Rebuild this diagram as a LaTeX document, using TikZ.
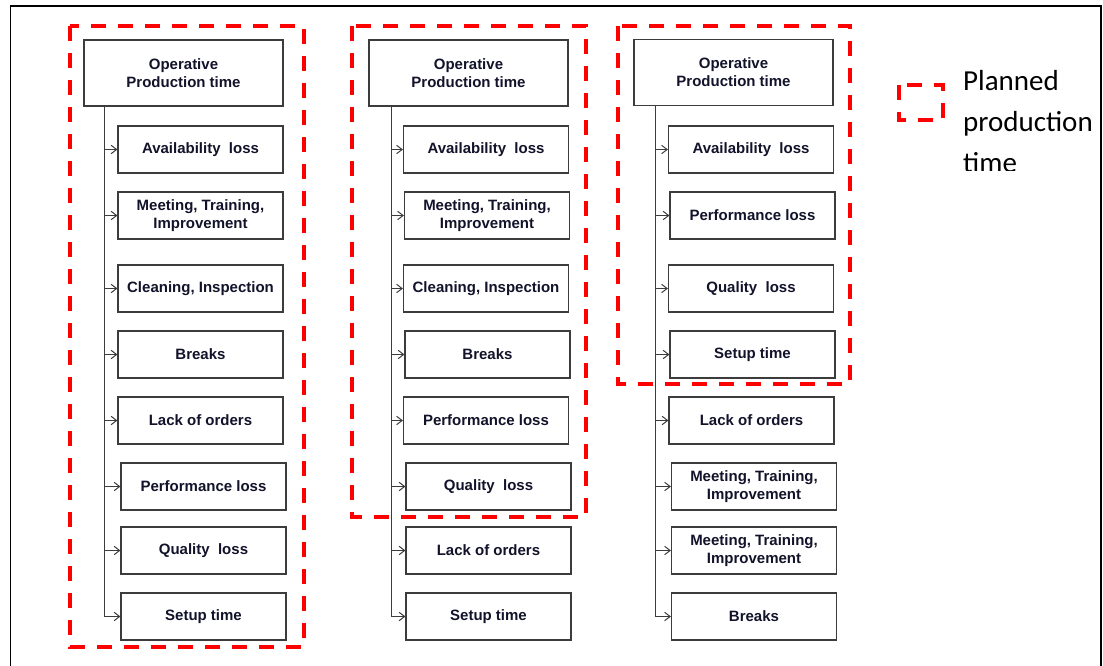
\documentclass[tikz,border=0pt]{standalone}
\usepackage{fontspec}
\setmainfont{Liberation Sans}
\newfontfamily\legendfont{Carlito}
\usetikzlibrary{arrows.meta}
\definecolor{boxtext}{RGB}{18,18,42}
\definecolor{boxline}{RGB}{60,60,60}
\definecolor{planred}{RGB}{255,0,0}
\tikzset{
  box/.style={draw=boxline, line width=1.2pt, minimum width=165pt, minimum height=47pt,
    inner sep=0pt, align=center, text=boxtext,
    font=\fontsize{15}{18}\selectfont\bfseries},
  headbox/.style={box, minimum width=199pt, minimum height=66pt},
  feed/.style={draw=boxline, line width=1pt},
  arr/.style={feed, -{Straight Barb[length=5.5pt,width=8.5pt,line width=1pt]}},
  plan/.style={draw=planred, line width=4pt, dash pattern=on 15pt off 12pt},
}
\begin{document}
\begin{tikzpicture}[x=1pt,y=-1pt]
\useasboundingbox (0,0) rectangle (1103,666);
% outer frame (open at the bottom)
\draw[line width=1.5pt] (10.5,666) -- (10.5,6) -- (1101,6) -- (1101,666);

% ---------- first breakdown ----------
\node[headbox] (t1) at (183.5,73) {Operative\\Production time};
\node[box] (a1) at (200.5,149.5) {Availability~ loss};
\node[box] (b1) at (200.5,215.5) {Meeting, Training,\\Improvement};
\node[box] (c1) at (200.5,288.5) {Cleaning, Inspection};
\node[box] (d1) at (200.5,354.5) {Breaks};
\node[box] (e1) at (200.5,420.5) {Lack of orders};
\node[box] (f1) at (203.5,486.5) {Performance loss};
\node[box] (g1) at (203.5,550.5) {Quality~ loss};
\node[box] (h1) at (203.5,616.5) {Setup time};
\coordinate (s1) at (104,106);
\draw[feed] (s1) -- (s1 |- h1.west);
\foreach \n in {a1,b1,c1,d1,e1,f1,g1,h1}
  \draw[arr] (s1 |- \n.west) -- (\n.west);
\draw[plan] (70,26) rectangle (304,647);

% ---------- second breakdown ----------
\node[headbox] (t2) at (468.5,73) {Operative\\Production time};
\node[box] (a2) at (486,149.5) {Availability~ loss};
\node[box] (b2) at (487,215.5) {Meeting, Training,\\Improvement};
\node[box] (c2) at (486,288.5) {Cleaning, Inspection};
\node[box] (d2) at (487.5,354.5) {Breaks};
\node[box] (e2) at (486,420.5) {Performance loss};
\node[box] (f2) at (488.5,486.5) {Quality~ loss};
\node[box] (g2) at (488.5,550.5) {Lack of orders};
\node[box] (h2) at (488.5,616.5) {Setup time};
\coordinate (s2) at (391,106);
\draw[feed] (s2) -- (s2 |- h2.west);
\foreach \n in {a2,b2,c2,d2,e2,f2,g2,h2}
  \draw[arr] (s2 |- \n.west) -- (\n.west);
\draw[plan] (352,26) rectangle (586,517);

% ---------- third breakdown ----------
\node[headbox] (t3) at (733.5,72.5) {Operative\\Production time};
\node[box] (a3) at (751,149.5) {Availability~ loss};
\node[box] (b3) at (752.5,215.5) {Performance loss};
\node[box] (c3) at (751,288.5) {Quality~ loss};
\node[box] (d3) at (752.5,354.5) {Setup time};
\node[box] (e3) at (751.5,420.5) {Lack of orders};
\node[box] (f3) at (754,486.5) {Meeting, Training,\\Improvement};
\node[box] (g3) at (754,550.5) {Meeting, Training,\\Improvement};
\node[box] (h3) at (754,616.5) {Breaks};
\coordinate (s3) at (655,105);
\draw[feed] (s3) -- (s3 |- h3.west);
\foreach \n in {a3,b3,c3,d3,e3,f3,g3,h3}
  \draw[arr] (s3 |- \n.west) -- (\n.west);
\draw[plan] (618,26) rectangle (850,384);

% ---------- legend ----------
\draw[plan] (899,85) rectangle (943,120);
\begin{scope}
  \clip (955,40) rectangle (1099,170);
  \node[anchor=north west, inner sep=0pt, align=left,
        font=\legendfont\fontsize{29}{41}\selectfont] (legend) at (963,70)
        {Planned\\production\\time};
\end{scope}
\end{tikzpicture}
\end{document}
